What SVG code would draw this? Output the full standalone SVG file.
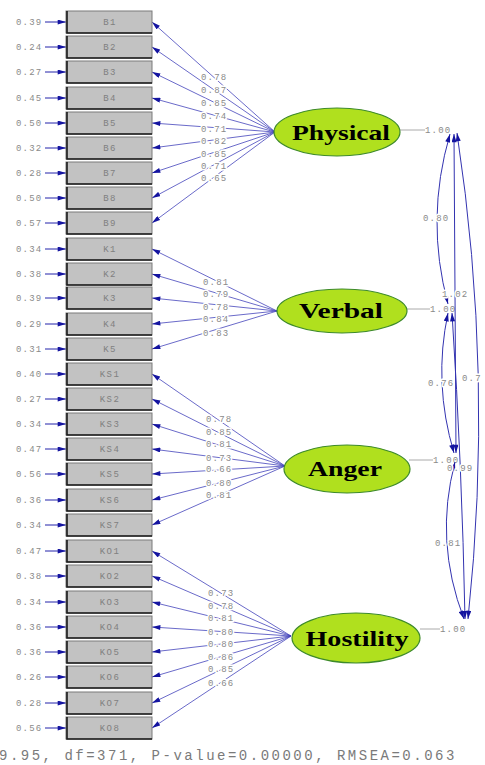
<svg xmlns="http://www.w3.org/2000/svg" width="485" height="765" viewBox="0 0 485 765">
  <style>
    .box { fill: #c2c2c2; stroke: #7a7a7a; stroke-width: 1; }
    .edge { fill: none; stroke: #1a1a1a; stroke-width: 1.6; }
    .mono { font-family: "Liberation Mono", "DejaVu Sans Mono", monospace; font-size: 9px; fill: #8a8a8a; letter-spacing: 1.2px; }
    .halo { paint-order: stroke; stroke: #ffffff; stroke-width: 3px; stroke-linejoin: round; }
    .name { font-family: "Liberation Mono", "DejaVu Sans Mono", monospace; font-size: 9px; fill: #808080; letter-spacing: 1.4px; text-anchor: middle; }
    .lv { fill: #b0e01e; stroke: #3d8a2a; stroke-width: 1.2; }
    .lvtext { font-family: "Liberation Serif", "Times New Roman", serif; font-weight: bold; font-size: 22px; fill: #000; text-anchor: middle; }
    .path { fill: none; stroke: #4444bb; stroke-width: 0.8; }
    .err { fill: none; stroke: #2222aa; stroke-width: 1; }
    .cov { fill: none; stroke: #3333b0; stroke-width: 1; }
    .var { fill: none; stroke: #aaaaaa; stroke-width: 1; }
    .stat { font-family: "Liberation Mono", "Courier New", monospace; font-size: 14px; fill: #7a7a7a; letter-spacing: 2.5px; }
  </style>
  <defs>
    <marker id="ah" viewBox="0 0 10 6" refX="10" refY="3" markerWidth="9" markerHeight="5" markerUnits="userSpaceOnUse" orient="auto-start-reverse">
      <path d="M0,0 L10,3 L0,6 z" fill="#1414a0"/>
    </marker>
    <marker id="ahe" viewBox="0 0 10 6" refX="10" refY="3" markerWidth="11" markerHeight="5" markerUnits="userSpaceOnUse" orient="auto">
      <path d="M0,0 L10,3 L0,6 z" fill="#1414a0"/>
    </marker>
  </defs>
  <rect width="485" height="765" fill="#ffffff"/>

  <!-- connectors: loadings, error terms, factor covariances -->
  <g id="connectors">
    <!-- Physical loadings -->
    <g class="path" marker-end="url(#ah)">
      <path d="M275,132 L152,22"/><path d="M275,132 L152,47"/><path d="M275,132 L152,72"/>
      <path d="M275,132 L152,98"/><path d="M275,132 L152,123"/><path d="M275,132 L152,148"/>
      <path d="M275,132 L152,173"/><path d="M275,132 L152,198"/><path d="M275,132 L152,223"/>
    </g>
    <!-- Verbal loadings -->
    <g class="path" marker-end="url(#ah)">
      <path d="M277,311 L152,249"/><path d="M277,311 L152,274"/><path d="M277,311 L152,298"/>
      <path d="M277,311 L152,324"/><path d="M277,311 L152,349"/>
    </g>
    <!-- Anger loadings -->
    <g class="path" marker-end="url(#ah)">
      <path d="M285,466 L152,374"/><path d="M285,466 L152,399"/><path d="M285,466 L152,424"/>
      <path d="M285,466 L152,449"/><path d="M285,466 L152,474"/><path d="M285,466 L152,500"/>
      <path d="M285,466 L152,525"/>
    </g>
    <!-- Hostility loadings -->
    <g class="path" marker-end="url(#ah)">
      <path d="M291,636 L152,551"/><path d="M291,636 L152,576"/><path d="M291,636 L152,602"/>
      <path d="M291,636 L152,627"/><path d="M291,636 L152,652"/><path d="M291,636 L152,677"/>
      <path d="M291,636 L152,703"/><path d="M291,636 L152,728"/>
    </g>

    <!-- loading estimates -->
    <g class="mono halo">
      <text x="201" y="80">0.78</text><text x="201" y="93">0.87</text><text x="201" y="106">0.85</text>
      <text x="201" y="119">0.74</text><text x="201" y="132">0.71</text><text x="201" y="144">0.82</text>
      <text x="201" y="157">0.85</text><text x="201" y="169">0.71</text><text x="201" y="181">0.65</text>

      <text x="203" y="285">0.81</text><text x="203" y="297">0.79</text><text x="203" y="310">0.78</text>
      <text x="203" y="322">0.84</text><text x="203" y="336">0.83</text>

      <text x="206" y="422">0.78</text><text x="206" y="435">0.85</text><text x="206" y="447">0.81</text>
      <text x="206" y="461">0.73</text><text x="206" y="472">0.66</text><text x="206" y="486">0.80</text>
      <text x="206" y="498">0.81</text>

      <text x="208" y="596">0.73</text><text x="208" y="609">0.78</text><text x="208" y="621">0.81</text>
      <text x="208" y="635">0.80</text><text x="208" y="647">0.80</text><text x="208" y="660">0.86</text>
      <text x="208" y="672">0.85</text><text x="208" y="686">0.66</text>
    </g>

    <!-- error variances -->
    <g class="err" marker-end="url(#ahe)">
      <path d="M45,22 H66"/><path d="M45,47 H66"/><path d="M45,72 H66"/><path d="M45,98 H66"/>
      <path d="M45,123 H66"/><path d="M45,148 H66"/><path d="M45,173 H66"/><path d="M45,198 H66"/>
      <path d="M45,223 H66"/>
      <path d="M45,249 H66"/><path d="M45,274 H66"/><path d="M45,298 H66"/><path d="M45,324 H66"/>
      <path d="M45,349 H66"/>
      <path d="M45,374 H66"/><path d="M45,399 H66"/><path d="M45,424 H66"/><path d="M45,449 H66"/>
      <path d="M45,474 H66"/><path d="M45,500 H66"/><path d="M45,525 H66"/>
      <path d="M45,551 H66"/><path d="M45,576 H66"/><path d="M45,602 H66"/><path d="M45,627 H66"/>
      <path d="M45,652 H66"/><path d="M45,677 H66"/><path d="M45,703 H66"/><path d="M45,728 H66"/>
    </g>
    <g class="mono">
      <text x="16" y="25">0.39</text><text x="16" y="50">0.24</text><text x="16" y="75">0.27</text>
      <text x="16" y="101">0.45</text><text x="16" y="126">0.50</text><text x="16" y="151">0.32</text>
      <text x="16" y="176">0.28</text><text x="16" y="201">0.50</text><text x="16" y="226">0.57</text>
      <text x="16" y="252">0.34</text><text x="16" y="277">0.38</text><text x="16" y="301">0.39</text>
      <text x="16" y="327">0.29</text><text x="16" y="352">0.31</text>
      <text x="16" y="377">0.40</text><text x="16" y="402">0.27</text><text x="16" y="427">0.34</text>
      <text x="16" y="452">0.47</text><text x="16" y="477">0.56</text><text x="16" y="503">0.36</text>
      <text x="16" y="528">0.34</text>
      <text x="16" y="554">0.47</text><text x="16" y="579">0.38</text><text x="16" y="605">0.34</text>
      <text x="16" y="630">0.36</text><text x="16" y="655">0.36</text><text x="16" y="680">0.26</text>
      <text x="16" y="706">0.28</text><text x="16" y="731">0.56</text>
    </g>

    <!-- factor variances -->
    <g class="var">
      <path d="M400,130 H425"/><path d="M407,309 H430"/><path d="M409,460 H433"/><path d="M420,629 H440"/>
    </g>
    <g class="mono">
      <text x="425" y="133">1.00</text><text x="430" y="312">1.00</text>
      <text x="433" y="463">1.00</text><text x="440" y="632">1.00</text>
    </g>

    <!-- factor covariances -->
    <g class="cov" marker-start="url(#ah)" marker-end="url(#ah)">
      <path d="M450,134 Q425,219 448,304"/>
      <path d="M454,134 Q455,293 456,453"/>
      <path d="M457,133 Q494,376 468,619"/>
      <path d="M448,313 Q433,383 454,453"/>
      <path d="M452,313 Q462,466 465,619"/>
      <path d="M455,462 Q434,541 464,619"/>
    </g>
    <g class="mono halo">
      <text x="423" y="221">0.80</text>
      <text x="442" y="297">1.02</text>
      <text x="462" y="381">0.7</text>
      <text x="428" y="386">0.76</text>
      <text x="447" y="471">0.99</text>
      <text x="435" y="546">0.81</text>
    </g>
  </g>

  <!-- observed indicators -->
  <g id="B1"><rect class="box" x="66" y="11" width="86" height="22"/><path class="edge" d="M67,11 V33 H152"/><text class="name" x="110" y="25">B1</text></g>
  <g id="B2"><rect class="box" x="66" y="36" width="86" height="22"/><path class="edge" d="M67,36 V58 H152"/><text class="name" x="110" y="50">B2</text></g>
  <g id="B3"><rect class="box" x="66" y="61" width="86" height="22"/><path class="edge" d="M67,61 V83 H152"/><text class="name" x="110" y="75">B3</text></g>
  <g id="B4"><rect class="box" x="66" y="87" width="86" height="22"/><path class="edge" d="M67,87 V109 H152"/><text class="name" x="110" y="101">B4</text></g>
  <g id="B5"><rect class="box" x="66" y="112" width="86" height="22"/><path class="edge" d="M67,112 V134 H152"/><text class="name" x="110" y="126">B5</text></g>
  <g id="B6"><rect class="box" x="66" y="137" width="86" height="22"/><path class="edge" d="M67,137 V159 H152"/><text class="name" x="110" y="151">B6</text></g>
  <g id="B7"><rect class="box" x="66" y="162" width="86" height="22"/><path class="edge" d="M67,162 V184 H152"/><text class="name" x="110" y="176">B7</text></g>
  <g id="B8"><rect class="box" x="66" y="187" width="86" height="22"/><path class="edge" d="M67,187 V209 H152"/><text class="name" x="110" y="201">B8</text></g>
  <g id="B9"><rect class="box" x="66" y="212" width="86" height="22"/><path class="edge" d="M67,212 V234 H152"/><text class="name" x="110" y="226">B9</text></g>

  <g id="K1"><rect class="box" x="66" y="238" width="86" height="22"/><path class="edge" d="M67,238 V260 H152"/><text class="name" x="110" y="252">K1</text></g>
  <g id="K2"><rect class="box" x="66" y="263" width="86" height="22"/><path class="edge" d="M67,263 V285 H152"/><text class="name" x="110" y="277">K2</text></g>
  <g id="K3"><rect class="box" x="66" y="287" width="86" height="22"/><path class="edge" d="M67,287 V309 H152"/><text class="name" x="110" y="301">K3</text></g>
  <g id="K4"><rect class="box" x="66" y="313" width="86" height="22"/><path class="edge" d="M67,313 V335 H152"/><text class="name" x="110" y="327">K4</text></g>
  <g id="K5"><rect class="box" x="66" y="338" width="86" height="22"/><path class="edge" d="M67,338 V360 H152"/><text class="name" x="110" y="352">K5</text></g>

  <g id="KS1"><rect class="box" x="66" y="363" width="86" height="22"/><path class="edge" d="M67,363 V385 H152"/><text class="name" x="110" y="377">KS1</text></g>
  <g id="KS2"><rect class="box" x="66" y="388" width="86" height="22"/><path class="edge" d="M67,388 V410 H152"/><text class="name" x="110" y="402">KS2</text></g>
  <g id="KS3"><rect class="box" x="66" y="413" width="86" height="22"/><path class="edge" d="M67,413 V435 H152"/><text class="name" x="110" y="427">KS3</text></g>
  <g id="KS4"><rect class="box" x="66" y="438" width="86" height="22"/><path class="edge" d="M67,438 V460 H152"/><text class="name" x="110" y="452">KS4</text></g>
  <g id="KS5"><rect class="box" x="66" y="463" width="86" height="22"/><path class="edge" d="M67,463 V485 H152"/><text class="name" x="110" y="477">KS5</text></g>
  <g id="KS6"><rect class="box" x="66" y="489" width="86" height="22"/><path class="edge" d="M67,489 V511 H152"/><text class="name" x="110" y="503">KS6</text></g>
  <g id="KS7"><rect class="box" x="66" y="514" width="86" height="22"/><path class="edge" d="M67,514 V536 H152"/><text class="name" x="110" y="528">KS7</text></g>

  <g id="KO1"><rect class="box" x="66" y="540" width="86" height="22"/><path class="edge" d="M67,540 V562 H152"/><text class="name" x="110" y="554">KO1</text></g>
  <g id="KO2"><rect class="box" x="66" y="565" width="86" height="22"/><path class="edge" d="M67,565 V587 H152"/><text class="name" x="110" y="579">KO2</text></g>
  <g id="KO3"><rect class="box" x="66" y="591" width="86" height="22"/><path class="edge" d="M67,591 V613 H152"/><text class="name" x="110" y="605">KO3</text></g>
  <g id="KO4"><rect class="box" x="66" y="616" width="86" height="22"/><path class="edge" d="M67,616 V638 H152"/><text class="name" x="110" y="630">KO4</text></g>
  <g id="KO5"><rect class="box" x="66" y="641" width="86" height="22"/><path class="edge" d="M67,641 V663 H152"/><text class="name" x="110" y="655">KO5</text></g>
  <g id="KO6"><rect class="box" x="66" y="666" width="86" height="22"/><path class="edge" d="M67,666 V688 H152"/><text class="name" x="110" y="680">KO6</text></g>
  <g id="KO7"><rect class="box" x="66" y="692" width="86" height="22"/><path class="edge" d="M67,692 V714 H152"/><text class="name" x="110" y="706">KO7</text></g>
  <g id="KO8"><rect class="box" x="66" y="717" width="86" height="22"/><path class="edge" d="M67,717 V739 H152"/><text class="name" x="110" y="731">KO8</text></g>

  <!-- latent factors -->
  <g id="Physical"><ellipse class="lv" cx="337" cy="132" rx="63" ry="24"/><text class="lvtext" x="341" y="140" textLength="98" lengthAdjust="spacingAndGlyphs">Physical</text></g>
  <g id="Verbal"><ellipse class="lv" cx="342" cy="311" rx="65" ry="22"/><text class="lvtext" x="341" y="318" textLength="84" lengthAdjust="spacingAndGlyphs">Verbal</text></g>
  <g id="Anger"><ellipse class="lv" cx="347" cy="469" rx="63" ry="24"/><text class="lvtext" x="345" y="476" textLength="74" lengthAdjust="spacingAndGlyphs">Anger</text></g>
  <g id="Hostility"><ellipse class="lv" cx="356" cy="638" rx="64" ry="25"/><text class="lvtext" x="357" y="646" textLength="103" lengthAdjust="spacingAndGlyphs">Hostility</text></g>

  <!-- fit statistics -->
  <text class="stat" x="-1" y="760">9.95, df=371, P-value=0.00000, RMSEA=0.063</text>
</svg>
